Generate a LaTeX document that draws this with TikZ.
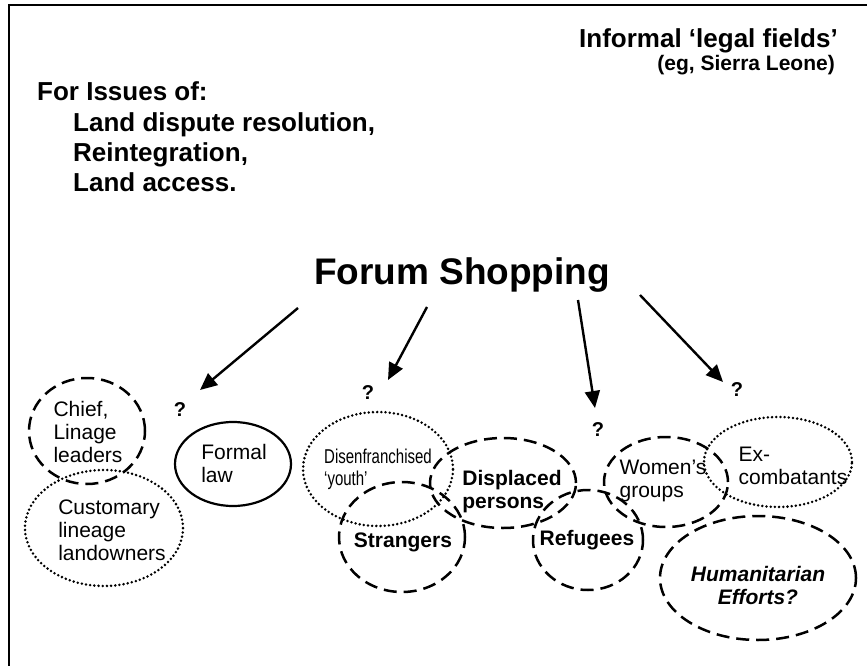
\documentclass[tikz,border=0pt]{standalone}
\usepackage{fontspec}
\setmainfont{Liberation Sans}
\newfontfamily\narrowsans[FakeStretch=0.75]{Liberation Sans}
\usetikzlibrary{shapes.geometric}
\usetikzlibrary{arrows.meta}

\begin{document}
\begin{tikzpicture}[x=1pt,y=-1pt]
\tikzstyle{ring} = [ellipse, draw=black, line width=2.5pt, inner sep=0pt]
\tikzstyle{dashring} = [ring, dash pattern=on 13pt off 7pt]
\tikzstyle{dotring} = [ring, line width=2.8pt, line cap=round, dash pattern=on 0pt off 4.2pt]
\tikzstyle{solidring} = [ring, line width=2.2pt]
\tikzstyle{lbl} = [inner sep=0pt, align=left, font=\fontsize{21}{23}\selectfont]
\tikzstyle{blbl} = [inner sep=0pt, align=left, font=\fontsize{21}{23}\selectfont\bfseries]
\tikzstyle{head} = [inner sep=0pt, align=left, font=\fontsize{26}{30}\selectfont\bfseries]
\tikzstyle{qmark} = [inner sep=0pt, font=\fontsize{20}{22}\selectfont\bfseries]
\tikzstyle{edge} = [draw=black, line width=2.4pt, -{Triangle[length=17pt,width=15pt]}]

\useasboundingbox (0,0) rectangle (867,666);
\fill[white] (0,0) rectangle (867,666);
\draw[line width=2.5pt] (867,5) -- (9,5) -- (9,666);

% headings
\node[head, anchor=base east] (fields) at (838,48) {Informal ‘legal fields’};
\node[inner sep=0pt, font=\fontsize{21}{23}\selectfont\bfseries, anchor=base east] (place) at (835,71) {(eg, Sierra Leone)};
\node[head, anchor=base west] (issues) at (37,101) {For Issues of:};
\node[head, anchor=north west] (list) at (73,112.5) {Land dispute resolution,\\Reintegration,\\Land access.};
\node[inner sep=0pt, font=\fontsize{37}{44}\selectfont\bfseries, anchor=base] (forum) at (462,284) {Forum Shopping};

% rings
\node[dashring, minimum width=116pt, minimum height=106pt] (chief) at (87,431) {};
\node[dotring, minimum width=158pt, minimum height=116pt] (cust) at (104,528) {};
\node[solidring, minimum width=116pt, minimum height=84pt] (formal) at (233,464) {};
\node[dotring, minimum width=150pt, minimum height=114pt] (youth) at (378,469) {};
\node[dashring, minimum width=146pt, minimum height=90pt] (displ) at (503,483) {};
\node[dashring, minimum width=126pt, minimum height=110pt] (strang) at (402,537) {};
\node[dashring, minimum width=110pt, minimum height=100pt] (refug) at (588,540) {};
\node[dashring, minimum width=124pt, minimum height=90pt] (women) at (666,482) {};
\node[dotring, minimum width=148pt, minimum height=90pt] (excomb) at (778,462) {};
\node[dashring, minimum width=196pt, minimum height=124pt] (human) at (758,578) {};

% texts
\node[lbl] (chieft) at (88,432) {Chief,\\Linage\\leaders};
\node[lbl] (custt) at (112,530) {Customary\\lineage\\landowners};
\node[lbl] (formalt) at (234,463) {Formal\\law};
\node[lbl, font=\fontsize{20}{22}\narrowsans] (youtht) at (378,469) {Disenfranchised\\‘youth’};
\node[blbl] (displt) at (512,492) {Displaced\\persons};
\node[blbl] (strangt) at (403,542) {Strangers};
\node[blbl] (refugt) at (587,540) {Refugees};
\node[lbl] (woment) at (663,481) {Women’s\\groups};
\node[lbl] (excombt) at (793,466) {Ex-\\combatants};
\node[blbl, align=center, font=\fontsize{21}{23}\selectfont\bfseries\itshape] (humant) at (758,585) {Humanitarian\\Efforts?};

% question marks
\node[qmark] (q1) at (180,410) {?};
\node[qmark] (q2) at (368,393) {?};
\node[qmark] (q3) at (598,430) {?};
\node[qmark] (q4) at (737,390) {?};

% arrows
\coordinate (a1s) at (298,308);
\coordinate (a1e) at (200,390);
\coordinate (a2s) at (427,307);
\coordinate (a2e) at (388,380);
\coordinate (a3s) at (578,300);
\coordinate (a3e) at (595,408);
\coordinate (a4s) at (640,295);
\coordinate (a4e) at (723,382);
\draw[edge] (a1s) to (a1e);
\draw[edge] (a2s) to (a2e);
\draw[edge] (a3s) to (a3e);
\draw[edge] (a4s) to (a4e);
\end{tikzpicture}
\end{document}
